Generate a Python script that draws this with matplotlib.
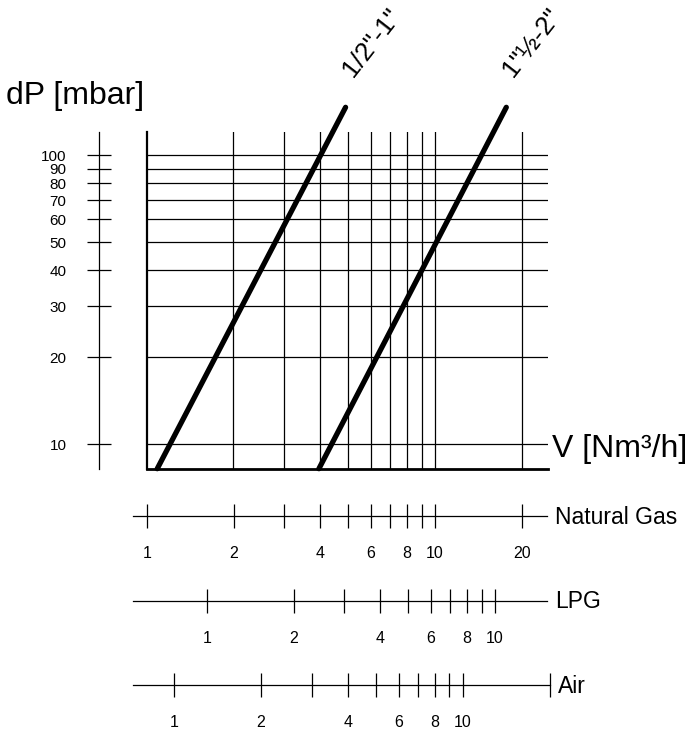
import numpy as np
import matplotlib.pyplot as plt
from matplotlib.ticker import FixedLocator, FixedFormatter, NullLocator, NullFormatter

plt.rcParams['font.family'] = ['Liberation Sans', 'DejaVu Sans']

W, H = 686, 731

# pressure drop scale (mbar)
dp_ticks = [10, 20, 30, 40, 50, 60, 70, 80, 90, 100]
dp_labels = [str(p) for p in dp_ticks]

# natural gas flow scale (Nm3/h)
ng_ticks = [1, 2, 3, 4, 5, 6, 7, 8, 9, 10, 20]
ng_labels = ['1', '2', '', '4', '', '6', '', '8', '', '10', '20']

# LPG and air scales
other_ticks = [1, 2, 3, 4, 5, 6, 7, 8, 9, 10]
other_labels = ['1', '2', '', '4', '', '6', '', '8', '', '10']
lpg_factor = 0.619   # V_lpg = V_ng * factor
air_factor = 0.8025  # V_air = V_ng * factor

# valve curves: natural gas flow vs pressure drop
sizes = ['1/2"-1"', '1"\u00bd-2"']
curve_v = [[1.088, 4.90], [3.96, 17.7]]
curve_dp = [[8.23, 146.6], [8.23, 146.6]]

LW = 0.9


def px(l, t, r, b):
    # pixel box -> figure fraction
    return [l / W, 1 - b / H, (r - l) / W, (b - t) / H]


def clear_ticks(a, axis):
    axis.set_major_locator(NullLocator())
    axis.set_minor_locator(NullLocator())


fig = plt.figure(figsize=(W / 100, H / 100), dpi=100)

###############################################
# main chart
###############################################
ax = fig.add_axes(px(146.7, 131.7, 548, 468.7))
ax.set_xscale('log')
ax.set_yscale('log')
ax.set_xlim(1, 24.7)
ax.set_ylim(8.23, 120.7)
clear_ticks(ax, ax.xaxis)
clear_ticks(ax, ax.yaxis)
for v in ng_ticks[1:]:
    ax.axvline(v, color='black', lw=LW)
for p in dp_ticks:
    ax.axhline(p, color='black', lw=LW)
ax.spines['top'].set_visible(False)
ax.spines['right'].set_visible(False)
ax.spines['left'].set_linewidth(1.6)
ax.spines['bottom'].set_linewidth(2.0)

for v, dp, name in zip(curve_v, curve_dp, sizes):
    ax.plot(v, dp, color='black', lw=3.8, solid_capstyle='round', clip_on=False, zorder=5)
    ax.annotate(name, xy=(v[1], dp[1]), xytext=(5, 21), textcoords='offset points',
                rotation=52, rotation_mode='anchor', ha='left', va='baseline',
                fontsize=19, annotation_clip=False)

ax.annotate('V [Nm\u00b3/h]', xy=(1, 10), xycoords=('axes fraction', 'data'),
            xytext=(2.7, -9.1), textcoords='offset points', ha='left', va='baseline',
            fontsize=23, annotation_clip=False)

###############################################
# pressure drop scale on the left
###############################################
ay = fig.add_axes(px(99.3, 131.7, 100.3, 468.7))
ay.set_yscale('log')
ay.set_ylim(ax.get_ylim())
clear_ticks(ay, ay.xaxis)
for s in ['top', 'right', 'bottom']:
    ay.spines[s].set_visible(False)
ay.spines['left'].set_linewidth(LW)
ay.yaxis.set_major_locator(FixedLocator(dp_ticks))
ay.yaxis.set_major_formatter(FixedFormatter(dp_labels))
ay.yaxis.set_minor_locator(NullLocator())
ay.tick_params(axis='y', direction='inout', length=17.3, width=LW, pad=15, labelsize=11)
ay.patch.set_visible(False)

fig.text(6 / W, 1 - 104 / H, 'dP [mbar]', ha='left', va='baseline', fontsize=23)

###############################################
# flow scales underneath
###############################################
ng_lim = (0.896, 24.46)


def flow_scale(ypix, right, lim, ticks, labels, name, end_bar=False):
    a = fig.add_axes(px(133, ypix - 1, right, ypix))
    a.set_xscale('log')
    a.set_xlim(lim)
    clear_ticks(a, a.yaxis)
    for s in ['top', 'right', 'left']:
        a.spines[s].set_visible(False)
    a.spines['bottom'].set_linewidth(LW)
    a.xaxis.set_major_locator(FixedLocator(ticks))
    a.xaxis.set_major_formatter(FixedFormatter(labels))
    if end_bar:
        a.xaxis.set_minor_locator(FixedLocator([lim[1]]))
    else:
        a.xaxis.set_minor_locator(NullLocator())
    a.xaxis.set_minor_formatter(NullFormatter())
    a.tick_params(axis='x', which='both', direction='inout', length=17.3, width=LW,
                  pad=13, labelsize=11.5)
    a.patch.set_visible(False)
    a.annotate(name, xy=(1, 0), xycoords='axes fraction', xytext=(5.5, -5.5),
               textcoords='offset points', ha='left', va='baseline', fontsize=16.5)
    return a


flow_scale(516, 547, ng_lim, ng_ticks, ng_labels, 'Natural Gas')
flow_scale(600.7, 547, (ng_lim[0] * lpg_factor, ng_lim[1] * lpg_factor),
           other_ticks, other_labels, 'LPG')
flow_scale(685, 550, (ng_lim[0] * air_factor, 25.05 * air_factor),
           other_ticks, other_labels, 'Air', end_bar=True)

fig.savefig('out.png', dpi=100)
